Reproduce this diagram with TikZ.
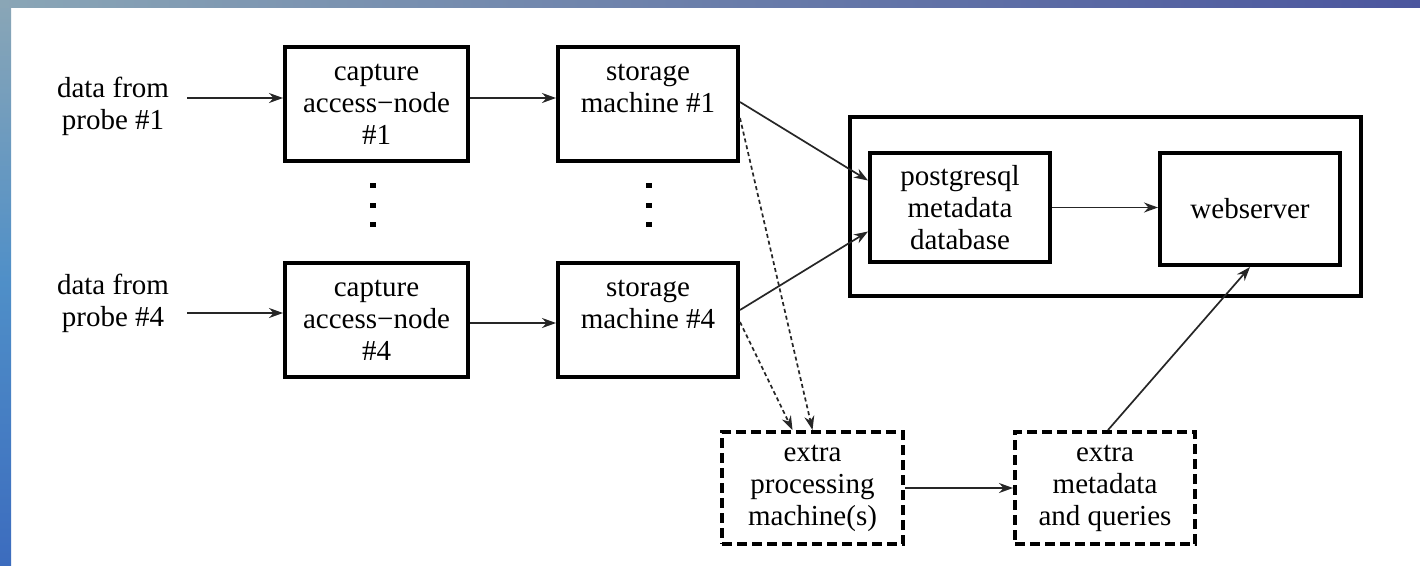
\documentclass[tikz,border=0pt]{standalone}
\usepackage{fontspec}
\setmainfont{Liberation Serif}
\usetikzlibrary{arrows.meta}
\definecolor{bandA}{HTML}{8AA6B6}
\definecolor{bandB}{HTML}{4F8FC8}
\definecolor{bandC}{HTML}{3C6CBE}
\definecolor{bandD}{HTML}{4B569E}
\begin{document}
\begin{tikzpicture}[x=1pt,y=-1pt,
  font=\fontsize{29pt}{32pt}\selectfont,
  box/.style={draw, line width=4pt, align=center, inner sep=0pt},
  dbox/.style={box, dash pattern=on 10pt off 5pt},
  arr/.style={-{Stealth[length=14pt,width=10pt]}, line width=1.7pt, draw=black!85},
  darr/.style={arr, dash pattern=on 4pt off 3pt},
  dot/.style={fill, minimum width=6pt, minimum height=5pt, inner sep=0pt}]
  \useasboundingbox (0,0) rectangle (1420,565);
  % page and slide border bands
  \fill[white] (0,0) rectangle (1420,565);
  \shade[top color=bandA, bottom color=bandC, middle color=bandB] (0,0) rectangle (11,565);
  \shade[left color=bandA, right color=bandD] (0,0) rectangle (1420,7);

  % inputs
  \node[align=center] (d1) at (113,106) {data from\\probe \#1};
  \node[align=center] (d4) at (113,303) {data from\\probe \#4};

  % capture and storage machines
  \node[box, minimum width=183pt, minimum height=114pt] (c1) at (376.5,104) {capture\\access−node\\\#1};
  \node[box, minimum width=180pt, minimum height=114pt] (s1) at (648,104) {storage\\machine \#1\\~};
  \node[box, minimum width=183pt, minimum height=114pt] (c4) at (376.5,320) {capture\\access−node\\\#4};
  \node[box, minimum width=180pt, minimum height=114pt] (s4) at (648,320) {storage\\machine \#4\\~};

  % elision dots
  \node[dot] (la) at (373,185) {};
  \node[dot] (lb) at (373,205) {};
  \node[dot] (lc) at (373,224) {};
  \node[dot] (ra) at (649,185) {};
  \node[dot] (rb) at (649,205) {};
  \node[dot] (rc) at (649,224) {};

  % metadata server
  \node[box, minimum width=511pt, minimum height=179pt] (srv) at (1105.5,206.5) {};
  \node[box, minimum width=180pt, minimum height=109pt] (pg) at (960,207.5) {postgresql\\metadata\\database};
  \node[box, minimum width=180pt, minimum height=112pt] (ws) at (1250,209) {webserver};

  % optional stages
  \node[dbox, minimum width=181pt, minimum height=112pt] (ep) at (812.5,488) {extra\\processing\\machine(s)};
  \node[dbox, minimum width=180pt, minimum height=112pt] (em) at (1105,488) {extra\\metadata\\and queries};

  % connectors
  \draw[arr] ([xshift=15pt,yshift=8pt]d1.east) -- ([yshift=8pt]d1.east -| c1.west);
  \draw[arr] ([xshift=15pt,yshift=-10pt]d4.east) -- ([yshift=-10pt]d4.east -| c4.west);
  \draw[arr] ([yshift=6pt]c1.east) -- ([yshift=6pt]s1.west);
  \draw[arr] ([yshift=-3pt]c4.east) -- ([yshift=-3pt]s4.west);
  \draw[arr] ([yshift=2pt]s1.east) -- ([yshift=27pt]pg.west);
  \draw[arr] ([yshift=10pt]s4.east) -- ([yshift=-24pt]pg.west);
  \draw[darr] ([yshift=-14pt]s1.east) -- (ep.north);
  \draw[darr] ([yshift=-2pt]s4.east) -- ([xshift=-20pt]ep.north);
  \draw[arr] (pg.east) -- (pg.east -| ws.west);
  \draw[arr] (ep.east) -- (em.west);
  \draw[arr] ([xshift=3pt]em.north) -- (ws.south);
\end{tikzpicture}
\end{document}
